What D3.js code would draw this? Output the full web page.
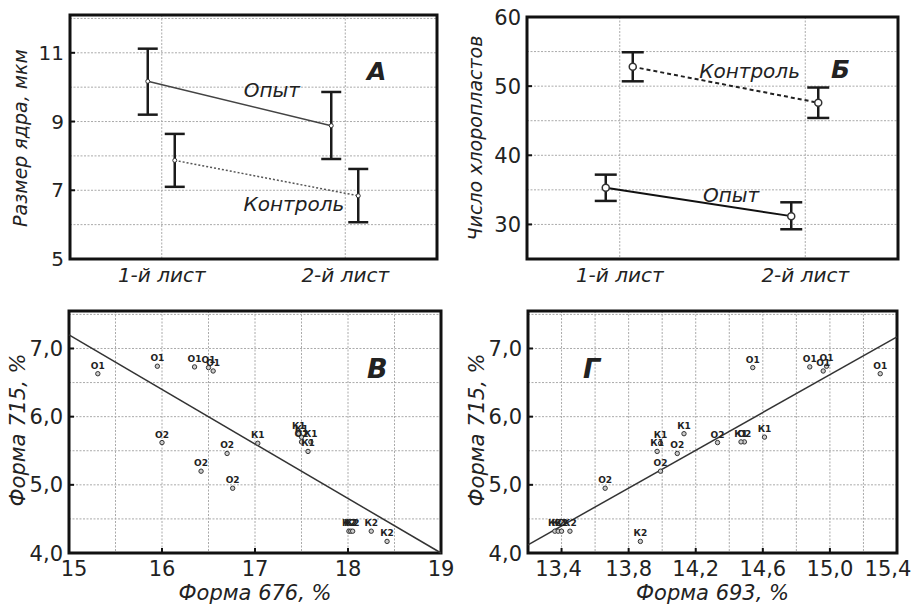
<!DOCTYPE html>
<html>
<head>
<meta charset="utf-8">
<script src="https://cdn.jsdelivr.net/npm/d3@7"></script>
<style>
body { margin: 0; background: #fff; }
text { font-family: "DejaVu Sans", sans-serif; fill: #222; }
</style>
</head>
<body>
<div id="chart"></div>
<script>
// ---- data ----
const leaves = ["1-й лист", "2-й лист"];
const seriesNames = ["Опыт", "Контроль"];

// A: nucleus size, мкм (mean and error bar ends)
const nucOpytMean = [10.17, 8.88];
const nucOpytLow = [9.2, 7.91];
const nucOpytHigh = [11.12, 9.86];
const nucKontrMean = [7.87, 6.84];
const nucKontrLow = [7.1, 6.07];
const nucKontrHigh = [8.64, 7.62];

// Б: chloroplast count
const chlOpytMean = [35.3, 31.2];
const chlOpytLow = [33.4, 29.3];
const chlOpytHigh = [37.2, 33.2];
const chlKontrMean = [52.8, 47.6];
const chlKontrLow = [50.7, 45.4];
const chlKontrHigh = [54.9, 49.8];

// В, Г: samples
const sampleGroup = ["О1", "О1", "О1", "О1", "О1",
                     "О2", "О2", "О2", "О2", "О2",
                     "К1", "К1", "К1", "К1", "К1",
                     "К2", "К2", "К2", "К2", "К2"];
const form676 = [15.31, 15.95, 16.35, 16.50, 16.55,
                 16.00, 16.70, 16.42, 16.76, 17.50,
                 17.47, 17.50, 17.60, 17.57, 17.03,
                 18.01, 18.03, 18.05, 18.25, 18.42];
const form693 = [15.30, 14.98, 14.88, 14.54, 14.96,
                 14.33, 14.09, 13.99, 13.66, 14.49,
                 14.13, 14.61, 14.47, 13.97, 13.99,
                 13.36, 13.38, 13.40, 13.45, 13.87];
const form715 = [6.63, 6.74, 6.73, 6.72, 6.67,
                 5.62, 5.46, 5.20, 4.95, 5.63,
                 5.75, 5.70, 5.63, 5.49, 5.61,
                 4.32, 4.32, 4.32, 4.32, 4.17];
const fitB = [[15, 7.2], [19, 4.0]];
const fitG = [[13.2, 4.12], [15.4, 7.17]];

const svg = d3.select("#chart").append("svg")
    .attr("width", 913)
    .attr("height", 606);

const comma = v => d3.format(".1f")(v).replace(".", ",");

function grid(g, x, y, xs, ys) {
    const [x0, x1] = x.range(), [y1, y0] = y.range();
    g.selectAll(null).data(xs).join("line")
        .attr("x1", d => x(d)).attr("x2", d => x(d))
        .attr("y1", y0).attr("y2", y1)
        .attr("stroke", "#aaa").attr("stroke-dasharray", "2,1.5");
    g.selectAll(null).data(ys).join("line")
        .attr("x1", x0).attr("x2", x1)
        .attr("y1", d => y(d)).attr("y2", d => y(d))
        .attr("stroke", "#aaa").attr("stroke-dasharray", "2,1.5");
}

function border(g, x, y) {
    const [x0, x1] = x.range(), [y1, y0] = y.range();
    g.append("rect")
        .attr("x", x0).attr("y", y0)
        .attr("width", x1 - x0).attr("height", y1 - y0)
        .attr("fill", "none").attr("stroke", "#111").attr("stroke-width", 3);
}

function yTicks(g, x, y, ticks, fmt, size) {
    const x0 = x.range()[0];
    g.selectAll(null).data(ticks).join("line")
        .attr("x1", x0).attr("x2", x0 + 5)
        .attr("y1", d => y(d)).attr("y2", d => y(d))
        .attr("stroke", "#111").attr("stroke-width", 2);
    g.selectAll(null).data(ticks).join("text")
        .attr("x", x0 - 6).attr("y", d => y(d)).attr("dy", "0.36em")
        .attr("text-anchor", "end").attr("font-size", size)
        .text(fmt);
}

function yTitle(g, cx, cy, label, size) {
    g.append("text")
        .attr("transform", `translate(${cx},${cy}) rotate(-90)`)
        .attr("text-anchor", "middle").attr("font-size", size)
        .attr("font-style", "italic")
        .text(label);
}

// ---- A and Б: means with error bars ----
function meanPanel(o) {
    const g = svg.append("g");
    const x = d3.scalePoint().domain(leaves).range([o.left, o.right]).padding(0.5);
    const shift = d3.scalePoint().domain(seriesNames).range([-14, 13]);
    const y = d3.scaleLinear().domain(o.yDomain).range([o.bottom, o.top]);

    grid(g, x, y, leaves, d3.range(o.yDomain[0], o.yDomain[1], o.yStep).slice(1));
    border(g, x, y);
    yTicks(g, x, y, o.ticks, d => d, o.tickSize);

    g.selectAll(null).data(leaves).join("text")
        .attr("x", d => x(d)).attr("y", 282)
        .attr("text-anchor", "middle").attr("font-size", 20).attr("font-style", "italic")
        .text(d => d);
    yTitle(g, o.titleX, 138, o.title, 19);

    o.series.forEach(s => {
        const pts = leaves.map((l, i) => ({cx: x(l) + shift(s.name), m: s.mean[i], lo: s.low[i], hi: s.high[i]}));
        g.append("path")
            .attr("d", d3.line().x(d => d.cx).y(d => y(d.m))(pts))
            .attr("fill", "none").attr("stroke", s.color)
            .attr("stroke-width", s.width).attr("stroke-dasharray", s.dash);
        g.selectAll(null).data(pts).join("line")
            .attr("x1", d => d.cx).attr("x2", d => d.cx)
            .attr("y1", d => y(d.lo)).attr("y2", d => y(d.hi))
            .attr("stroke", "#1a1a1a").attr("stroke-width", 2.5);
        ["lo", "hi"].forEach(k => {
            g.selectAll(null).data(pts).join("line")
                .attr("x1", d => d.cx - o.cap).attr("x2", d => d.cx + o.cap)
                .attr("y1", d => y(d[k])).attr("y2", d => y(d[k]))
                .attr("stroke", "#1a1a1a").attr("stroke-width", 2.5);
        });
        g.selectAll(null).data(pts).join("circle")
            .attr("cx", d => d.cx).attr("cy", d => y(d.m)).attr("r", o.dot)
            .attr("fill", "#fff").attr("stroke", "#333").attr("stroke-width", o.dot > 2 ? 1.5 : 1);
        g.append("text")
            .attr("x", o.left + s.labelAt[0] * (o.right - o.left)).attr("y", y(s.labelAt[1]))
            .attr("text-anchor", "middle").attr("font-size", 20).attr("font-style", "italic")
            .text(s.name);
    });

    g.append("text")
        .attr("x", o.letterAt[0]).attr("y", o.letterAt[1])
        .attr("font-size", 25).attr("font-weight", "bold").attr("font-style", "italic")
        .text(o.letter);
}

meanPanel({
    left: 70, right: 437, top: 15, bottom: 259,
    yDomain: [5, 12.1], yStep: 1, ticks: [5, 7, 9, 11], tickSize: 20,
    title: "Размер ядра, мкм", titleX: 27,
    cap: 10, dot: 2,
    letter: "А", letterAt: [367, 80],
    series: [
        {name: "Опыт", mean: nucOpytMean, low: nucOpytLow, high: nucOpytHigh,
         color: "#444", width: 1.5, dash: null, labelAt: [0.55, 9.72]},
        {name: "Контроль", mean: nucKontrMean, low: nucKontrLow, high: nucKontrHigh,
         color: "#555", width: 1.5, dash: "2,2", labelAt: [0.61, 6.4]}
    ]
});

meanPanel({
    left: 527, right: 898, top: 17, bottom: 259,
    yDomain: [25, 60], yStep: 5, ticks: [30, 40, 50, 60], tickSize: 21,
    title: "Число хлоропластов", titleX: 482,
    cap: 11, dot: 3.5,
    letter: "Б", letterAt: [831, 78],
    series: [
        {name: "Опыт", mean: chlOpytMean, low: chlOpytLow, high: chlOpytHigh,
         color: "#111", width: 2, dash: null, labelAt: [0.55, 33.3]},
        {name: "Контроль", mean: chlKontrMean, low: chlKontrLow, high: chlKontrHigh,
         color: "#222", width: 2, dash: "4,3", labelAt: [0.6, 51.2]}
    ]
});

// ---- В and Г: scatter with fitted line ----
function scatterPanel(o) {
    const g = svg.append("g");
    const x = d3.scaleLinear().domain(o.xDomain).range([o.left, o.right]);
    const y = d3.scaleLinear().domain([4, 7.55]).range([553, 311]);

    grid(g, x, y, o.xGrid, d3.range(4.5, 7.6, 0.5));
    border(g, x, y);
    yTicks(g, x, y, [4, 5, 6, 7], comma, 21);

    g.selectAll(null).data(o.xTicks).join("line")
        .attr("x1", d => x(d)).attr("x2", d => x(d))
        .attr("y1", 553).attr("y2", 548)
        .attr("stroke", "#111").attr("stroke-width", 2);
    const last = o.xTicks.length - 1;
    g.selectAll(null).data(o.xTicks).join("text")
        .attr("x", (d, i) => x(d) + (i === 0 ? o.firstShift : i === last ? o.lastShift : 0))
        .attr("y", 576)
        .attr("text-anchor", "middle").attr("font-size", 21)
        .text(o.xFmt);
    g.append("text")
        .attr("x", (o.left + o.right) / 2).attr("y", 600)
        .attr("text-anchor", "middle").attr("font-size", 21).attr("font-style", "italic")
        .text(o.xTitle);
    yTitle(g, o.left - 44, 430, "Форма 715, %", 21);

    g.append("path")
        .attr("d", d3.line().x(d => x(d[0])).y(d => y(d[1]))(o.fit))
        .attr("fill", "none").attr("stroke", "#333").attr("stroke-width", 1.5);

    const pts = sampleGroup.map((s, i) => ({s, vx: o.xs[i], vy: form715[i]}));
    g.selectAll(null).data(pts).join("circle")
        .attr("cx", d => x(d.vx)).attr("cy", d => y(d.vy)).attr("r", 2.2)
        .attr("fill", "#ccc").attr("stroke", "#333").attr("stroke-width", 1);
    g.selectAll(null).data(pts).join("text")
        .attr("x", d => x(d.vx)).attr("y", d => y(d.vy) - 5)
        .attr("text-anchor", "middle").attr("font-size", 9).attr("font-weight", "bold")
        .attr("fill", "#333")
        .text(d => d.s);

    g.append("text")
        .attr("x", o.letterAt[0]).attr("y", o.letterAt[1])
        .attr("font-size", 27).attr("font-weight", "bold").attr("font-style", "italic")
        .text(o.letter);
}

scatterPanel({
    left: 69, right: 441, xDomain: [15, 19],
    xGrid: d3.range(15.5, 19, 0.5), xTicks: [15, 16, 17, 18, 19], xFmt: d => d,
    firstShift: 5, lastShift: 0,
    xTitle: "Форма 676, %", xs: form676, fit: fitB,
    letter: "В", letterAt: [367, 378]
});

scatterPanel({
    left: 528, right: 897, xDomain: [13.2, 15.4],
    xGrid: d3.range(13.4, 15.4, 0.2), xTicks: [13.4, 13.8, 14.2, 14.6, 15.0, 15.4], xFmt: comma,
    firstShift: -3, lastShift: -9,
    xTitle: "Форма 693, %", xs: form693, fit: fitG,
    letter: "Г", letterAt: [583, 378]
});
</script>
</body>
</html>
